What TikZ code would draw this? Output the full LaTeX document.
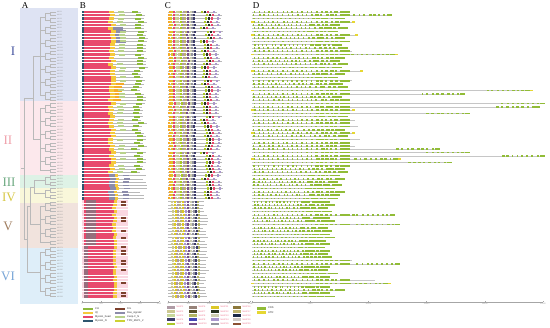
\documentclass[tikz,border=0pt]{standalone}
\usepackage{fontspec}
\setmainfont{Liberation Serif}
\newfontfamily\smallsans{Liberation Sans}
\definecolor{bgI}{RGB}{222,227,243}
\definecolor{bgII}{RGB}{252,232,236}
\definecolor{bgIII}{RGB}{222,242,230}
\definecolor{bgIV}{RGB}{249,247,218}
\definecolor{bgV}{RGB}{241,227,221}
\definecolor{bgVI}{RGB}{222,238,249}
\definecolor{lbI}{RGB}{70,85,160}
\definecolor{lbII}{RGB}{240,160,170}
\definecolor{lbIII}{RGB}{110,170,130}
\definecolor{lbIV}{RGB}{215,200,70}
\definecolor{lbV}{RGB}{160,125,95}
\definecolor{lbVI}{RGB}{120,165,215}
\definecolor{cHead}{RGB}{232,72,108}
\definecolor{cIQ}{RGB}{245,200,60}
\definecolor{cN}{RGB}{45,85,110}
\definecolor{cCH}{RGB}{140,185,60}
\definecolor{cDIL}{RGB}{125,65,45}
\definecolor{cRas}{RGB}{140,140,170}
\definecolor{cCenp}{RGB}{185,210,140}
\definecolor{cTPR}{RGB}{205,210,50}
\definecolor{cMauve}{RGB}{150,110,125}
\definecolor{cOrange}{RGB}{245,170,40}
\definecolor{cPink}{RGB}{250,215,225}
\definecolor{cCDS}{RGB}{145,188,55}
\definecolor{cUTR}{RGB}{230,215,50}
\definecolor{m1}{RGB}{175,155,165}
\definecolor{m2}{RGB}{205,200,145}
\definecolor{m3}{RGB}{200,215,155}
\definecolor{m4}{RGB}{60,60,105}
\definecolor{m5}{RGB}{170,200,40}
\definecolor{m6}{RGB}{150,130,120}
\definecolor{m7}{RGB}{90,80,40}
\definecolor{m8}{RGB}{180,180,100}
\definecolor{m9}{RGB}{70,70,180}
\definecolor{m10}{RGB}{120,80,140}
\definecolor{m11}{RGB}{220,200,40}
\definecolor{m12}{RGB}{40,50,30}
\definecolor{m13}{RGB}{205,205,175}
\definecolor{m14}{RGB}{170,150,205}
\definecolor{m15}{RGB}{150,150,160}
\definecolor{m16}{RGB}{140,120,60}
\definecolor{m17}{RGB}{190,180,110}
\definecolor{m18}{RGB}{25,40,70}
\definecolor{m19}{RGB}{205,200,195}
\definecolor{m20}{RGB}{140,80,50}
\tikzset{
  tree/.style={draw=gray!55,line width=0.3pt},
  leaflbl/.style={font=\smallsans\fontsize{1.7}{2}\selectfont,text=gray!80,anchor=west,inner sep=0pt},
  clbl/.style={font=\fontsize{13}{13}\selectfont,anchor=center,inner sep=0pt},
  panel/.style={font=\fontsize{9}{9}\selectfont,anchor=center,inner sep=0pt},
  pline/.style={draw=gray!55,line width=0.35pt},
  pband/.style={draw=cPink,line width=2.6pt},
  intron/.style={draw=gray!45,line width=0.4pt},
  axisline/.style={draw=gray!70,line width=0.4pt},
  ticklbl/.style={font=\smallsans\fontsize{2}{2}\selectfont,text=gray!80,inner sep=0pt,anchor=north},
  leglbl/.style={font=\smallsans\fontsize{2.6}{3}\selectfont,text=black!80,anchor=west,inner sep=0pt},
  motlbl/.style={font=\smallsans\fontsize{2.2}{3}\selectfont,text=cHead!80,anchor=west,inner sep=0pt},
}
\def\YO{12}
\def\RH{3.27}
% B panel rows, clades I-IV
\newcommand\browA[1]{%
  \pgfmathsetmacro\yy{\YO+#1*\RH}%
  \pgfmathsetmacro\ee{140+8*rnd}%
  \pgfmathsetmacro\hh{108+3.5*rnd}%
  \pgfmathsetmacro\cp{rnd}%
  \draw[pline] (82,\yy) -- (\ee,\yy);
  \fill[cN] (82,\yy-1.2) rectangle (84.3,\yy+1.2);
  \fill[cHead] (84.3,\yy-1.2) rectangle (\hh,\yy+1.2);
  \ifnum#1>49
    \fill[cRas] (\hh,\yy-1.2) rectangle ({\hh+6},\yy+1.2);
    \fill[cIQ] ({\hh+6},\yy-1.2) rectangle ({\hh+9},\yy+1.2);
    \fill[cRas] ({\hh+14},\yy-0.8) rectangle ({\hh+20},\yy+0.8);
  \else
    \fill[cIQ] (\hh,\yy-1.2) rectangle ({\hh+5},\yy+1.2);
    \ifnum#1>4 \ifnum#1<10
      \fill[cRas] ({\hh+5},\yy-1.2) rectangle ({\hh+15},\yy+1.2);
    \fi\fi
    \ifnum#1>21 \ifnum#1<28
      \fill[cOrange] ({\hh+5},\yy-1.2) rectangle ({\hh+13},\yy+1.2);
    \fi\fi
    \ifdim\cp pt>0.5pt
      \fill[cCenp] ({\hh+9},\yy-1) rectangle ({\hh+15},\yy+1);
    \fi
    \fill[cCH] ({\ee-9},\yy-1) rectangle ({\ee-3},\yy+1);
  \fi
}
% B panel rows, clades V-VI
\newcommand\browB[1]{%
  \pgfmathsetmacro\yy{\YO+#1*\RH}%
  \pgfmathsetmacro\hh{112+2*rnd}%
  \pgfmathsetmacro\cp{rnd}%
  \draw[pband] (82,\yy) -- (128,\yy);
  \fill[cHead] (84,\yy-1.2) rectangle (\hh,\yy+1.2);
  \ifnum#1<72
    \fill[cMauve] (86,\yy-1.2) rectangle (96,\yy+1.2);
  \else
    \fill[cMauve] (84,\yy-1.2) rectangle (88,\yy+1.2);
  \fi
  \fill[cIQ] (\hh,\yy-1.2) rectangle ({\hh+3.5},\yy+1.2);
  \ifdim\cp pt>0.6pt
    \fill[cDIL] (121,\yy-1) rectangle (126,\yy+1);
  \fi
}
% C panel rows
\newcommand\crowA[1]{%
  \pgfmathsetmacro\yy{\YO+#1*\RH}%
  \pgfmathsetmacro\jj{1.2*rnd}%
  \pgfmathsetmacro\ce{216+8*rnd}%
  \draw[pline] (168,\yy) -- (\ce,\yy);
  \foreach \xo/\cc in {168/cOrange,170.3/m11,172.6/cHead,174.9/m3,177.2/m2,179.5/m5,181.8/m1,184.1/m17,186.4/m10,188.7/m13,191/m15,193.3/m4}{
    \fill[\cc] ({\xo+\jj},\yy-1.1) rectangle ({\xo+\jj+2},\yy+1.1);
  }
  \foreach \xo/\cc in {-16/m5,-13/m12,-10/cHead,-4/m14}{
    \fill[\cc] ({\ce+\xo},\yy-1.1) rectangle ({\ce+\xo+2},\yy+1.1);
  }
}
\newcommand\crowB[1]{%
  \pgfmathsetmacro\yy{\YO+#1*\RH}%
  \pgfmathsetmacro\jj{1.5*rnd}%
  \pgfmathsetmacro\ce{203+6*rnd}%
  \draw[pline] (168,\yy) -- (\ce,\yy);
  \foreach \xo/\cc in {171/m2,173.6/m11,176.2/m1,178.8/m17,181.4/m11,184/m14,186.6/m10,189.2/m13,191.8/m15,194.4/m4,197/m8}{
    \fill[\cc] ({\xo+\jj},\yy-1.1) rectangle ({\xo+\jj+2},\yy+1.1);
  }
}
% D panel rows: row, end, utr
\newcommand\drow[3]{%
  \pgfmathsetmacro\yy{\YO+#1*\RH}%
  \pgfmathsetmacro\SS{min(#2,350)}%
  \draw[intron] (252,\yy) -- (#2,\yy);
  \foreach \k in {0,...,17}{
    \pgfmathsetmacro\xx{253+\k*(\SS-264)/18+1.2*rnd}
    \pgfmathsetmacro\ww{\k>12 ? 2+2*rnd : 0.7+1.2*rnd}
    \fill[cCDS] (\xx,\yy-0.85) rectangle ({\xx+\ww},\yy+0.85);
  }
  \fill[cCDS] ({\SS-10},\yy-0.85) rectangle (\SS,\yy+0.85);
  \ifdim #2pt>380pt
    \foreach \k in {0,...,7}{
      \pgfmathsetmacro\xx{#2-44+\k*5+rnd}
      \fill[cCDS] (\xx,\yy-0.85) rectangle ({\xx+1.5+1.5*rnd},\yy+0.85);
    }
    \fill[cCDS] ({#2-5},\yy-0.85) rectangle (#2,\yy+0.85);
  \fi
  \ifnum#3=1
    \fill[cUTR] (251,\yy-0.85) rectangle (254,\yy+0.85);
    \fill[cUTR] (#2,\yy-0.85) rectangle ({#2+3},\yy+0.85);
  \fi
}
\begin{document}
\begin{tikzpicture}[x=1pt,y=-1pt]
\useasboundingbox[fill=white] (0,0) rectangle (550,328);
\pgfmathsetseed{3}
% clade backgrounds
\fill[bgI] (20,8) rectangle (78,101.5);
\fill[bgII] (20,101.5) rectangle (78,175);
\fill[bgIII] (20,175) rectangle (78,188);
\fill[bgIV] (20,188) rectangle (78,203);
\fill[bgV] (20,203) rectangle (78,248.5);
\fill[bgVI] (20,248.5) rectangle (78,304);
% clade labels
\node[clbl,text=lbI] (labI) at (13,51) {I};
\node[clbl,text=lbII] (labII) at (8,140) {II};
\node[clbl,text=lbIII] (labIII) at (9,182) {III};
\node[clbl,text=lbIV] (labIV) at (9,197) {IV};
\node[clbl,text=lbV] (labV) at (8,226) {V};
\node[clbl,text=lbVI] (labVI) at (8,276) {VI};
% panel letters
\node[panel] (pA) at (25,6) {A};
\node[panel] (pB) at (83,6) {B};
\node[panel] (pC) at (168,6) {C};
\node[panel] (pD) at (256,6) {D};
% tree
\foreach \ff/\nn/\xr in {0/14/33,28/11/33,50/2/34,54/2/34,58/7/30,72/8/27}{
  \foreach \p in {1,...,\nn}{
    \pgfmathsetmacro\ya{\YO+(\ff+2*\p-2)*\RH}
    \pgfmathsetmacro\yb{\ya+\RH}
    \pgfmathsetmacro\ym{\ya+0.5*\RH}
    \draw[tree] (56,\ya) -- (50,\ya) -- (50,\yb) -- (56,\yb);
    \draw[tree] (50,\ym) -- (45,\ym);
  }
  \pgfmathtruncatemacro\nq{floor(\nn/2)}
  \foreach \q in {1,...,\nq}{
    \pgfmathsetmacro\ya{\YO+(\ff+4*\q-3.5)*\RH}
    \pgfmathsetmacro\yb{\ya+2*\RH}
    \pgfmathsetmacro\ym{\ya+\RH}
    \draw[tree] (45,\ya) -- (45,\yb);
    \draw[tree] (45,\ym) -- (40,\ym);
  }
  \pgfmathtruncatemacro\od{mod(\nn,2)}
  \pgfmathsetmacro\yf{\YO+(\ff+1.5)*\RH}
  \ifnum\od=1
    \pgfmathsetmacro\yl{\YO+(\ff+2*\nn-1.5)*\RH}
    \draw[tree] (45,\yl) -- (40,\yl);
  \else
    \pgfmathsetmacro\yl{\YO+(\ff+2*\nn-2.5)*\RH}
  \fi
  \pgfmathsetmacro\yc{(\yf+\yl)/2}
  \draw[tree] (40,\yf) -- (40,\yl);
  \draw[tree] (40,\yc) -- (\xr,\yc);
}
\draw[tree] (33,56.15) -- (33,139.53);
\draw[tree] (33,97.84) -- (24,97.84);
\draw[tree] (34,180.4) -- (34,193.49);
\draw[tree] (34,186.94) -- (30,186.94);
\draw[tree] (30,186.94) -- (30,224.55);
\draw[tree] (30,205.75) -- (27,205.75);
\draw[tree] (27,205.75) -- (27,271.97);
\draw[tree] (27,238.86) -- (24,238.86);
\draw[tree] (24,97.84) -- (24,238.86);
\draw[tree] (24,168.35) -- (21,168.35);
% leaf labels
\foreach \r in {0,...,87}{
  \pgfmathsetmacro\yy{\YO+\r*\RH}
  \pgfmathtruncatemacro\gn{\r+1}
  \node[leaflbl] (leaf\r) at (56.8,\yy) {MYO\gn};
}
% B panel
\foreach \r in {0,...,57}{\browA{\r}}
\foreach \r in {58,...,87}{\browB{\r}}
% C panel
\foreach \r in {0,...,57}{\crowA{\r}}
\foreach \r in {58,...,87}{\crowB{\r}}
% D panel
\foreach \r/\L/\u in {0/350/0,1/392/0,2/345/0,3/352/1,4/340/0,5/348/0,6/338/0,7/355/1,8/345/0,9/350/0,10/342/0,11/348/0,12/352/0,13/395/1,14/345/0,15/340/0,16/348/0,17/342/0,18/360/1,19/345/0,20/338/0,21/352/0,22/343/0,23/348/0,24/530/1,25/465/0,26/342/0,27/350/0,
  28/545/0,29/540/0,30/352/1,31/470/0,32/348/0,33/355/0,34/350/0,35/358/0,36/345/0,37/352/1,38/348/0,39/360/0,40/350/0,41/355/0,42/440/0,43/470/0,44/545/0,45/398/1,46/452/0,47/350/0,48/345/0,49/348/0,
  50/340/0,51/345/0,52/338/0,53/342/0,54/335/0,55/345/0,56/340/0,57/338/0,
  58/330/0,59/335/0,60/328/0,61/332/0,62/395/0,63/330/0,64/335/0,65/400/0,66/328/0,67/332/0,68/330/0,69/335/0,70/326/0,71/330/0,
  72/325/0,73/330/0,74/328/0,75/332/0,76/352/0,77/400/0,78/330/0,79/328/0,80/338/0,81/330/0,82/375/0,83/388/1,84/330/0,85/345/0,86/330/0,87/335/0}{
  \drow{\r}{\L}{\u}
}
% axes
\draw[axisline] (82,302) -- (159,302);
\foreach \x/\t [count=\i] in {82/0,101.25/500,120.5/1000,139.75/1500,159/2000}{
  \draw[axisline] (\x,302) -- (\x,300.8);
  \node[ticklbl] (bt\i) at (\x,302.8) {\t};
}
\draw[axisline] (168,302) -- (250,302);
\foreach \x/\t [count=\i] in {168/0,188.5/500,209/1000,229.5/1500,250/2000}{
  \draw[axisline] (\x,302) -- (\x,300.8);
  \node[ticklbl] (ct\i) at (\x,302.8) {\t};
}
\draw[axisline] (252,302) -- (543,302);
\foreach \x/\t [count=\i] in {252/0,310.2/5000,368.4/10000,426.6/15000,484.8/20000,543/25000}{
  \draw[axisline] (\x,302) -- (\x,300.8);
  \node[ticklbl] (dt\i) at (\x,302.8) {\t};
}
% legend B
\foreach \i/\c/\t in {0/cCH/CH,1/cIQ/IQ,2/cHead/Myosin\_head,3/cN/Myosin\_N}{
  \fill[\c] (83,{307.6+\i*4}) rectangle (93,{310.2+\i*4});
  \node[leglbl] (lgb\i) at (95,{308.9+\i*4}) {\t};
}
\foreach \i/\c/\t in {0/cDIL/DIL,1/cRas/Ras\_signal2,2/cCenp/Cenp-F\_N,3/cTPR/TPR\_MLP1\_2}{
  \fill[\c] (115,{307.6+\i*4}) rectangle (125,{310.2+\i*4});
  \node[leglbl] (lgc\i) at (127,{308.9+\i*4}) {\t};
}
% legend C
\foreach \col in {0,...,3}{
  \foreach \rw in {0,...,4}{
    \pgfmathtruncatemacro\mn{\col*5+\rw+1}
    \pgfmathsetmacro\lx{167+\col*22}
    \pgfmathsetmacro\ly{305.8+\rw*4.2}
    \fill[m\mn] (\lx,\ly) rectangle ({\lx+8},{\ly+2.8});
    \node[motlbl] (lgm\mn) at ({\lx+9.5},{\ly+1.4}) {Motif \mn};
  }
}
% legend D
\fill[cCDS] (257,306.6) rectangle (266,309.6);
\node[leglbl] (lgcds) at (268,308.1) {CDS};
\fill[cUTR] (257,311.2) rectangle (266,314.2);
\node[leglbl] (lgutr) at (268,312.7) {UTR};
\end{tikzpicture}
\end{document}
